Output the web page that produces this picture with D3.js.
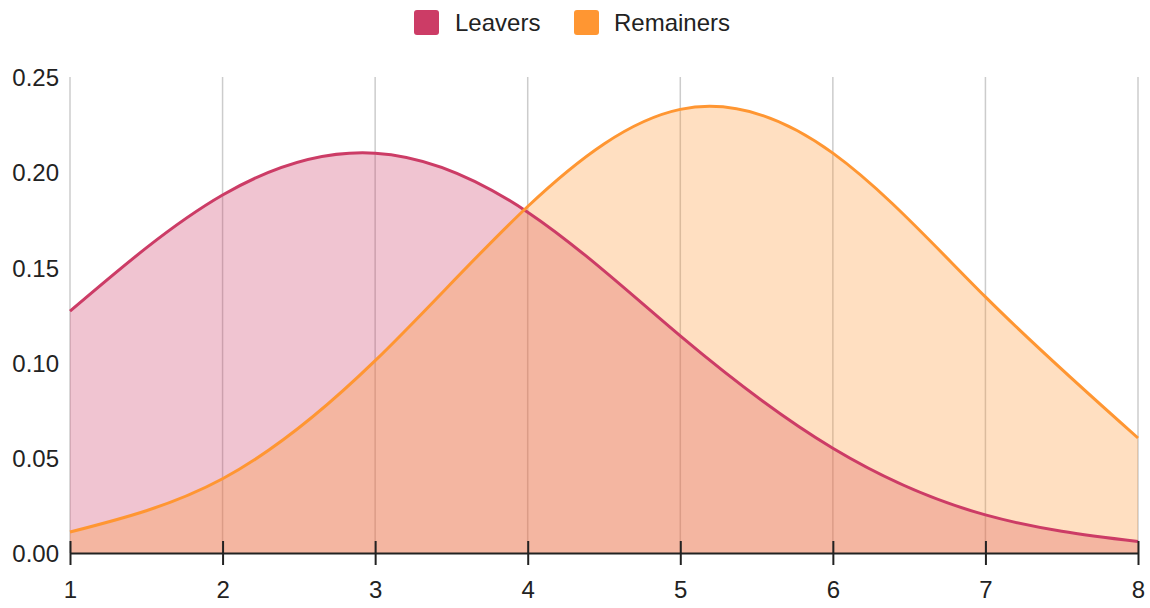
<!DOCTYPE html>
<html>
<head>
<meta charset="utf-8">
<script src="https://cdn.jsdelivr.net/npm/d3@7"></script>
<style>
  html, body { margin: 0; padding: 0; background: #fff; }
  svg { display: block; font-family: "Liberation Sans", Arial, sans-serif; }
</style>
</head>
<body>
<svg id="chart" width="1150" height="608"></svg>
<script>
const xValues = [1, 2, 3, 4, 5, 6, 7, 8];
const leavers = [0.127, 0.188, 0.210, 0.179, 0.114, 0.055, 0.020, 0.006];
const remainers = [0.011, 0.039, 0.101, 0.182, 0.233, 0.210, 0.1345, 0.0604];
const seriesNames = ["Leavers", "Remainers"];
const seriesColors = ["#cc3c66", "#ff9632"];
const yTicks = [0, 0.05, 0.10, 0.15, 0.20, 0.25];

(function () {
const svg = d3.select("#chart");
const pLeft = 70, pRight = 1138, pTop = 77, pBottom = 553;
const fontSize = 24;

const x = d3.scaleLinear().domain([1, 8]).range([pLeft, pRight]);
const y = d3.scaleLinear().domain([0, 0.25]).range([pBottom, pTop]);

// vertical gridlines
svg.append("g").selectAll("line").data(xValues).join("line")
  .attr("x1", d => x(d)).attr("x2", d => x(d))
  .attr("y1", y(0.25)).attr("y2", y(0))
  .attr("stroke", "#cccccc").attr("stroke-width", 1.5);

const curve = d3.curveNatural;
const series = [leavers, remainers];

const area = d3.area().x((d, i) => x(xValues[i])).y0(y(0)).y1(d => y(d)).curve(curve);
const line = d3.line().x((d, i) => x(xValues[i])).y(d => y(d)).curve(curve);

series.forEach((s, k) => {
  svg.append("path").datum(s).attr("d", area)
    .attr("fill", seriesColors[k]).attr("fill-opacity", 0.3);
});
series.forEach((s, k) => {
  svg.append("path").datum(s).attr("d", line)
    .attr("fill", "none").attr("stroke", seriesColors[k]).attr("stroke-width", 3);
});

// x axis
const xAxis = d3.axisBottom(x).tickValues(xValues).tickFormat(d3.format("d")).tickSize(0).tickPadding(0);
const gx = svg.append("g").attr("transform", `translate(0,${y(0)})`).call(xAxis);
gx.select(".domain").attr("stroke", "#222").attr("stroke-width", 2);
gx.selectAll(".tick line").attr("y1", -12).attr("y2", 12).attr("stroke", "#222").attr("stroke-width", 2);
gx.selectAll(".tick text").attr("y", 45).attr("dy", null)
  .attr("font-size", fontSize).attr("fill", "#222").attr("font-family", "Liberation Sans, Arial, sans-serif");

// y axis
const yAxis = d3.axisLeft(y).tickValues(yTicks).tickFormat(d3.format(".2f")).tickSize(0).tickPadding(0);
const gy = svg.append("g").attr("transform", `translate(${pLeft},0)`).call(yAxis);
gy.select(".domain").remove();
gy.selectAll(".tick text").attr("x", -11).attr("dy", "0.36em")
  .attr("font-size", fontSize).attr("fill", "#222").attr("font-family", "Liberation Sans, Arial, sans-serif");

// legend
const legendItems = [
  { name: seriesNames[0], color: seriesColors[0], sx: 414, tx: 455 },
  { name: seriesNames[1], color: seriesColors[1], sx: 574, tx: 614 }
];
const lg = svg.append("g");
legendItems.forEach(it => {
  lg.append("rect").attr("x", it.sx).attr("y", 10).attr("width", 25).attr("height", 25)
    .attr("rx", 3).attr("fill", it.color);
  lg.append("text").attr("x", it.tx).attr("y", 31).text(it.name)
    .attr("font-size", fontSize).attr("fill", "#222");
});
})();
</script>
</body>
</html>
